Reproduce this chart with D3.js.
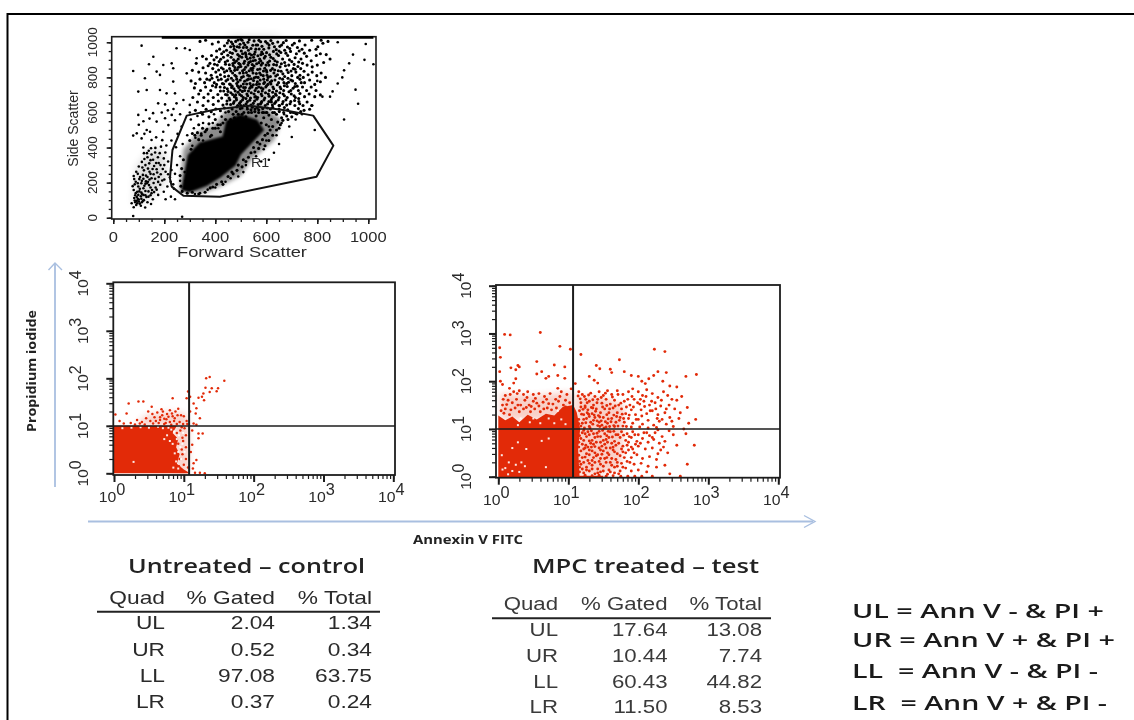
<!DOCTYPE html>
<html><head><meta charset="utf-8">
<script src="https://cdn.jsdelivr.net/npm/d3@7"></script>
<style>html,body{margin:0;padding:0;background:#fff}svg{display:block;filter:blur(.55px)}text{white-space:pre}</style>
</head><body><svg id="c" width="1134" height="720"></svg>
<script>
// ---------- DATA ----------
const scatterTicks=[0,200,400,600,800,1000];
const logMajor=[1,10,100,1000,10000];
const logLabels=["0","1","2","3","4"];
const quadHeader=["Quad","% Gated","% Total"];
const quadNames=["UL","UR","LL","LR"];
const untreatedGated=["2.04","0.52","97.08","0.37"];
const untreatedTotal=["1.34","0.34","63.75","0.24"];
const treatedGated=["17.64","10.44","60.43","11.50"];
const treatedTotal=["13.08","7.74","44.82","8.53"];
const legendLines=["UL = Ann V - & PI +","UR = Ann V + & PI +","LL  = Ann V - & PI -","LR  = Ann V + & PI -"];
const legendWidths=[252,263,246,255];
// gate R1 (forward, side scatter)
const gateR1=[[288,582],[405,618],[536,639],[667,614],[784,582],[863,411],[797,234],[418,120],[275,125],[229,177],[222,224],[232,386]];
// density regions of the main population (forward, side)
const coreA=[[270,160],[295,355],[340,425],[431,460],[445,550],[497,585],[562,555],[588,500],[536,420],[497,360],[477,300],[418,233],[366,186],[300,150]];
const haloA=[[260,150],[275,390],[335,490],[400,530],[450,630],[580,640],[660,560],[630,440],[540,330],[500,240],[420,180],[340,135]];
const smudgeA=[[450,1020],[650,1020],[640,800],[620,640],[460,600],[480,800]];
const smudgeLow=[[80,70],[90,280],[150,400],[200,380],[210,220],[150,110]];
// sparse and medium-density events, forward vs side scatter
const lowerCloud=[[78,836],[111,981],[157,918],[140,875],[124,795],[196,871],[229,880],[235,852],[170,833],[183,814],[248,966],[281,966],[300,956],[327,909],[98,719],[131,728],[183,728],[209,709],[242,709],[288,823],[235,776],[203,646],[176,652],[128,614],[98,586],[248,652],[275,671],[300,643],[203,567],[170,548],[131,500],[92,481],[78,468],[144,490],[196,490],[150,443],[111,452],[216,528],[229,586],[118,400],[139,382],[165,398],[187,405],[204,372],[150,360],[122,335],[175,345],[198,338],[215,320],[141,310],[100,292],[160,295],[185,300],[120,270],[90,262],[142,262],[172,258],[205,262],[228,272],[80,238],[105,232],[128,240],[150,225],[178,232],[200,218],[222,230],[88,205],[112,210],[136,205],[158,198],[184,188],[212,178],[238,165],[76,180],[98,178],[122,182],[146,172],[170,160],[198,148],[226,120],[242,105],[80,158],[102,150],[126,152],[150,140],[176,130],[205,105],[86,128],[108,122],[130,118],[155,105],[84,98],[100,92],[116,96],[134,88],[72,82],[90,72],[108,68],[125,58],[148,78],[80,60],[96,108],[112,135],[92,118],[104,165],[118,222],[132,196],[138,150],[82,112],[98,130],[78,10],[270,5],[128,208],[142,218],[118,168],[158,248],[168,312],[194,278],[112,318],[134,345],[156,330],[182,368],[208,412],[228,440],[252,478],[268,520],[242,556],[262,590],[236,620],[214,612],[190,600],[156,596],[142,565],[118,550],[100,530],[122,478],[168,458],[192,442],[246,402],[262,350],[250,300],[242,250],[262,210],[280,260],[272,420],[290,470],[316,510],[304,560],[330,580],[352,540],[300,600],[322,456],[345,480],[368,505],[390,540],[412,510],[425,576],[380,462],[352,440],[310,410],[395,590],[440,600],[660,540],[690,520],[715,560],[740,590],[610,520],[640,470],[670,590],[650,420],[600,440],[630,370],[590,390],[560,350],[520,300],[580,320],[510,260],[490,235],[460,225],[440,205],[400,172],[370,160],[340,140],[320,135],[610,330],[700,460],[720,590],[790,500],[905,560],[950,730],[960,650],[990,990],[985,900],[1020,875],[940,930],[925,880],[880,1000],[905,840],[898,800],[880,765],[860,720],[850,690],[820,690],[800,780],[780,640]];
const upperCloud=[[340,1005],[362,1012],[388,990],[412,1002],[436,980],[452,1010],[468,990],[480,1005],[494,972],[505,1012],[516,985],[528,1000],[540,965],[552,1008],[566,985],[578,1003],[590,960],[604,995],[618,1010],[632,975],[645,1002],[660,985],[678,1010],[692,965],[710,995],[730,1008],[752,985],[778,1012],[802,975],[822,995],[842,1005],[815,1012],[795,960],[770,955],[740,960],[722,970],[702,985],[672,955],[650,950],[628,948],[610,968],[586,935],[572,962],[556,945],[542,928],[530,955],[518,940],[502,950],[488,930],[474,960],[458,942],[444,955],[425,935],[405,950],[385,925],[365,905],[350,920],[395,900],[415,890],[432,915],[448,895],[462,915],[476,885],[490,905],[504,915],[512,880],[526,905],[538,890],[550,915],[562,878],[574,905],[592,910],[606,885],[618,915],[634,895],[648,925],[664,905],[684,925],[700,890],[718,935],[736,905],[758,920],[776,895],[796,925],[812,935],[835,930],[850,905],[825,885],[800,870],[780,860],[760,870],[742,880],[724,862],[706,850],[688,870],[672,885],[654,860],[640,870],[624,850],[610,870],[594,852],[580,870],[566,845],[552,865],[540,850],[528,870],[514,845],[500,862],[486,845],[470,868],[456,850],[440,875],[424,855],[408,870],[390,850],[372,866],[352,855],[325,880],[310,840],[335,830],[362,825],[384,812],[402,830],[420,815],[436,830],[452,808],[468,825],[482,805],[496,825],[510,805],[522,828],[534,808],[548,825],[560,802],[574,825],[588,810],[602,830],[616,805],[630,825],[644,815],[658,835],[672,805],[686,828],[700,810],[716,830],[732,812],[748,835],[764,815],[780,830],[798,810],[815,825],[832,800],[812,775],[790,760],[770,785],[750,770],[732,790],[714,765],[696,785],[680,765],[664,790],[648,770],[634,785],[618,762],[604,785],[590,765],[576,785],[562,760],[550,782],[536,765],[524,785],[510,762],[498,785],[484,765],[470,782],[456,762],[442,780],[428,765],[412,785],[396,770],[378,785],[358,770],[340,790],[322,765],[305,780],[318,740],[342,725],[362,745],[382,725],[402,745],[420,722],[436,742],[450,720],[464,742],[478,722],[492,742],[506,720],[518,742],[530,722],[544,745],[556,725],[570,745],[584,722],[598,745],[612,725],[626,745],[640,722],[654,745],[668,725],[682,748],[696,725],[712,748],[726,725],[742,745],[758,725],[776,745],[795,725],[812,700],[790,690],[768,705],[750,690],[732,708],[714,685],[698,705],[682,685],[666,705],[650,685],[636,705],[622,682],[608,705],[594,682],[580,705],[566,685],[552,705],[538,682],[524,705],[510,685],[496,702],[482,682],[468,702],[454,682],[440,702],[425,682],[410,702],[392,685],[372,705],[355,685],[335,705],[312,685],[330,660],[352,640],[372,665],[392,645],[412,665],[430,642],[446,665],[460,645],[474,662],[488,640],[500,662],[512,640],[526,662],[540,642],[554,665],[568,645],[582,662],[596,640],[610,662],[624,642],[638,662],[652,640],[666,662],[680,642],[696,662],[712,640],[728,662],[744,640],[760,660],[778,640],[770,618],[748,612],[726,622],[706,600],[684,615],[668,600],[650,620],[632,600],[616,620],[602,600],[586,622],[570,600],[556,620],[542,600],[526,620],[512,600],[498,622],[482,605],[466,620],[452,605],[436,625],[420,610],[402,620],[384,604],[364,618],[344,600],[322,612],[500,1018],[520,930],[548,895],[472,900],[560,985],[582,945],[596,920],[510,970],[534,935],[460,975],[486,975],[578,895],[600,840],[545,840],[492,880],[476,840],[510,825],[530,790],[568,800],[590,790],[500,750],[484,790],[466,750],[540,750],[580,740],[606,760],[628,690],[558,690],[520,680],[480,700],[500,640],[540,615],[580,655],[620,660],[650,640],[560,580],[600,600],[640,590],[680,580],[620,560],[660,570],[700,575],[580,540],[625,520],[520,575],[470,590],[440,560],[400,560],[350,590],[375,575],[335,530],[360,490],[385,470],[420,490],[400,510],[375,535],[310,480],[300,440],[335,445],[325,380],[310,350],[300,300],[300,250],[285,210],[390,175],[430,190],[465,260],[490,300],[510,330],[540,370],[575,420],[595,470],[615,500],[600,530],[650,510],[590,570],[470,500],[420,530],[460,560]];
const upperExtra=[[447,996],[463,1002],[473,977],[489,1013],[497,989],[511,996],[523,971],[533,1015],[547,983],[559,961],[571,1011],[583,977],[597,1004],[611,985],[625,994],[639,958],[653,977],[667,998],[683,973],[417,961],[433,946],[449,926],[467,937],[481,952],[495,921],[507,935],[521,918],[537,910],[553,932],[567,923],[579,930],[601,941],[613,929],[627,908],[641,934],[657,942],[677,938],[695,948],[713,912],[729,950],[749,938],[405,915],[421,903],[439,888],[455,872],[469,879],[483,893],[497,874],[515,892],[531,884],[545,873],[557,898],[571,884],[585,881],[599,870],[613,893],[629,873],[643,888],[659,878],[675,866],[691,900],[709,874],[727,888],[379,880],[397,875],[413,842],[431,848],[445,838],[461,836],[477,856],[491,858],[507,838],[519,858],[533,838],[547,852],[561,822],[575,848],[589,836],[603,812],[617,840],[633,842],[647,838],[665,820],[681,842],[697,836],[713,846],[735,850],[367,790],[387,795],[407,802],[423,790],[437,805],[449,788],[463,795],[477,812],[489,775],[503,800],[515,778],[527,812],[541,792],[553,798],[565,775],[579,815],[593,772],[607,800],[621,780],[637,808],[653,795],[669,770],[685,795],[703,780],[723,800],[745,800],[389,752],[405,760],[419,745],[433,762],[447,735],[459,760],[473,735],[487,752],[497,728],[511,742],[523,762],[535,738],[549,758],[561,738],[573,762],[587,735],[601,752],[615,772],[629,735],[643,758],[657,735],[671,752],[687,772],[705,738],[721,750],[737,770],[433,722],[447,700],[461,712],[475,690],[489,715],[503,695],[515,725],[527,695],[541,712],[555,688],[569,718],[583,695],[597,712],[611,692],[625,715],[639,698],[653,712],[671,695],[689,718],[709,695],[727,680],[445,648],[457,672],[471,652],[483,672],[495,652],[507,672],[521,650],[535,670],[549,652],[563,675],[577,648],[591,672],[605,648],[619,672],[633,652],[647,672],[663,650],[677,672],[693,650],[711,668],[731,650],[625,630],[605,625],[585,600],[565,628],[545,630],[525,632],[505,625],[485,632],[651,605],[671,628],[695,600],[715,595],[735,605],[665,555],[685,560],[645,545],[625,600],[610,585],[590,600],[570,615],[555,605],[530,600],[505,590],[490,590],[475,570],[455,545],[430,540],[410,530],[390,510],[365,500],[350,510],[320,470],[330,485],[345,470],[305,390],[275,330],[268,280],[262,240],[265,180],[270,150],[290,140],[310,145],[335,135],[360,145],[380,170],[405,190],[425,205],[450,235],[470,250],[485,270],[505,290],[520,320],[530,345],[555,375],[570,395],[595,410],[610,440],[625,470],[640,500],[655,530],[605,480],[585,445],[565,430],[550,400]];
const lowerExtra=[[86,88],[94,82],[104,80],[112,88],[92,96],[100,104],[110,108],[120,100],[88,140],[94,148],[110,144],[118,130],[126,128],[138,120],[146,128],[160,146],[166,172],[152,158],[140,186],[126,194],[110,196],[96,196],[84,190],[102,220],[116,244],[134,232],[146,250],[164,222],[176,204],[192,212],[186,248],[170,276],[154,278],[136,280],[114,286],[126,300],[146,328],[164,372],[178,312],[96,250],[82,220],[132,368],[148,396],[120,368],[200,300],[215,248],[225,205],[235,190]];
// top edge pile-up is drawn as a line between these forward scatter bounds
const pileUp=[[190,1028],[1020,1028]];
// untreated Annexin/PI events as decades (log10 annexin, log10 PI)
const coreB=[[0,0],[0,1],[.9,1],[.84,.85],[.92,.72],[.89,.55],[.94,.4],[.9,.2],[1.0,.08],[1.09,0]];
const haloB=[[.3,1],[.45,1.22],[.8,1.3],[1.02,1.26],[1.08,1],[1.08,0],[.9,0],[.85,1]];
const untreatedEvents=[[1.37,2.03],[1.32,2],[1.58,1.95],[1.49,1.79],[1.47,1.73],[1.4,1.79],[1.31,1.8],[1.37,1.71],[1.28,1.68],[1.26,1.61],[1.21,1.59],[1.29,1.54],[1.09,1.61],[1.14,1.47],[1.06,1.72],[1.18,1.37],[1.17,1.26],[1.23,1.16],[1.14,1.05],[1.18,1.02],[.21,1.47],[.35,1.51],[.42,1.51],[.18,1.26],[.02,1.24],[.54,1.4],[.49,1.3],[.84,1.58],[1.04,1.58],[.55,1.25],[.58,1.18],[.52,1.1],[.46,1.16],[.4,1.08],[.33,1.12],[.3,1.03],[.24,1.06],[.14,1.05],[.08,1.1],[.62,1.28],[.66,1.18],[.7,1.3],[.72,1.15],[.76,1.25],[.8,1.33],[.84,1.2],[.88,1.3],[.92,1.36],[.96,1.22],[.74,1.06],[.64,1.06],[.8,1.08],[.86,1.1],[.94,1.08],[.68,1.35],[.6,1.1],[1.0,1.2],[1.04,1.1],[1.09,1.3],[.9,1.04],[1.21,.84],[1.27,.84],[1.21,.74],[1.18,.28],[1.14,.21],[1.23,.01],[1.12,.9],[1.12,.6],[1.1,.45],[1.13,.1],[.95,.9],[.98,.75],[.92,.62],[.97,.5],[.94,.3],[1,.18],[.99,.68],[.9,.85],[.93,.15],[.98,.4],[1.03,.3],[1.03,.8],[1.03,.55],[1.06,.12],[1.16,.01],[1.3,.0],[.69,1.22],[.75,1.14],[.83,1.26],[.87,1.16],[.91,1.22],[.78,1.19],[.66,1.12],[.56,1.05],[.44,1.03],[.37,1.05],[.72,1.04],[.82,1.02],[.99,1.04],[1.01,.95],[.97,.97],[1.05,1.04]];
const untreatedGaps=[[.28,.24],[.76,.8],[.72,.72],[.8,.68],[.86,.88],[.9,.72],[.92,.45],[.89,.25],[.95,.55],[.93,.8],[.5,.96],[.25,.96],[.12,.95],[.7,.95],[.92,.1],[.84,.62],[.87,.42],[.82,.92],[.78,.96],[.96,.3],[.98,.62],[.99,.85],[1.01,.45],[.85,.12],[.63,.98],[.38,.97]];
// treated Annexin/PI events as decades
const coreC=[[0,0],[0,1.28],[.1,1.18],[.2,1.26],[.3,1.14],[.42,1.3],[.55,1.2],[.68,1.32],[.8,1.28],[.92,1.46],[1.07,1.5],[1.12,1.35],[1.17,1.0],[1.14,.6],[1.16,.02],[1.5,.02],[1.5,-.02],[0,-.02]];
const haloC1=[[.03,1.2],[.03,1.75],[.5,1.7],[1.07,1.78],[1.07,1.2]];
const haloC2=[[1.12,.02],[1.12,1.7],[1.5,1.66],[1.8,1.5],[1.75,.2],[1.5,.08]];
const treatedEvents=[[.6,3.02],[.09,2.98],[.17,2.97],[.88,2.73],[.55,2.41],[.8,2.34],[1.03,2.67],[.28,2.33],[.02,2.7],[.03,2.5],[.18,2.28],[.25,2.24],[.3,2.3],[.55,2.15],[.62,2.2],[.68,2.06],[.72,2.1],[.85,2.12],[.95,2.3],[.95,2.06],[.25,2.05],[.22,1.96],[.02,2.2],[.03,2.0],[.06,1.93],[.85,1.85],[1.1,1.95],[.16,1.85],[.22,1.78],[.3,1.8],[.36,1.72],[.42,1.78],[.5,1.72],[.58,1.74],[.66,1.68],[.74,1.74],[.82,1.62],[.9,1.78],[.98,1.72],[1.04,1.84],[.1,1.7],[.14,1.6],[.2,1.55],[.26,1.62],[.32,1.5],[.38,1.6],[.44,1.5],[.5,1.58],[.58,1.48],[.64,1.56],[.7,1.44],[.78,1.52],[.86,1.58],[.96,1.6],[1.02,1.55],[.06,1.5],[.1,1.42],[.18,1.4],[.24,1.44],[.3,1.36],[.36,1.42],[.46,1.36],[.52,1.42],[.6,1.36],[.76,1.4],[.16,1.3],
[1.18,2.56],[1.4,2.33],[1.45,2.26],[1.3,2.1],[1.37,2.02],[1.42,1.96],[1.6,2.25],[1.62,2.18],[1.73,2.45],[1.8,2.2],[1.9,2.12],[2.0,2.1],[2.05,2.0],[2.1,1.95],[2.15,2.05],[2.22,2.12],[2.28,2.2],[2.38,2.62],[2.23,2.67],[2.4,2.18],[2.35,2.0],[2.45,1.9],[2.55,1.88],[2.68,2.1],[2.83,2.14],[2.62,1.68],[2.55,1.6],[2.7,1.45],[2.82,1.2],[2.72,1.12],[2.65,1.0],
[1.15,1.78],[1.2,1.72],[1.25,1.62],[1.32,1.75],[1.38,1.68],[1.44,1.78],[1.5,1.7],[1.56,1.8],[1.62,1.72],[1.7,1.8],[1.78,1.72],[1.86,1.78],[1.92,1.84],[2,1.78],[2.06,1.7],[2.12,1.82],[2.2,1.74],[2.28,1.66],[2.36,1.78],[2.42,1.7],[2.48,1.62],[1.18,1.55],[1.24,1.48],[1.3,1.58],[1.36,1.5],[1.42,1.62],[1.48,1.54],[1.54,1.62],[1.6,1.52],[1.66,1.6],[1.72,1.5],[1.8,1.58],[1.88,1.5],[1.94,1.62],[2.02,1.52],[2.08,1.58],[2.16,1.5],[2.24,1.55],[2.32,1.48],[2.4,1.42],[1.16,1.38],[1.22,1.3],[1.28,1.4],[1.34,1.32],[1.4,1.42],[1.46,1.34],[1.52,1.42],[1.58,1.34],[1.64,1.44],[1.7,1.34],[1.76,1.42],[1.82,1.32],[1.9,1.4],[1.96,1.3],[2.04,1.4],[2.12,1.32],[2.2,1.38],[2.28,1.3],[2.38,1.34],[2.45,1.24],[1.15,1.2],[1.2,1.12],[1.26,1.22],[1.32,1.14],[1.38,1.24],[1.44,1.14],[1.5,1.24],[1.56,1.12],[1.62,1.22],[1.68,1.14],[1.74,1.24],[1.8,1.14],[1.86,1.22],[1.92,1.12],[2,1.2],[2.06,1.1],[2.14,1.18],[2.22,1.08],[2.3,1.16],[2.4,1.1],[2.5,1.05],[1.18,1.06],[1.3,1.05],[1.42,1.07],[1.54,1.04],[1.66,1.05],[1.78,1.06],[1.9,1.04],[2.02,1.04],[2.14,1.02],[2.26,1.03],[1.24,1.45],[1.3,1.26],[1.36,1.18],[1.48,1.08],[1.27,1.34],[1.22,1.2],[1.18,1.46],[1.35,1.44],[1.45,1.25],[1.55,1.3],
[1.2,.92],[1.28,.94],[1.36,.9],[1.44,.95],[1.52,.9],[1.6,.94],[1.68,.88],[1.76,.94],[1.84,.9],[1.92,.94],[2,.88],[2.08,.92],[2.16,.86],[2.24,.92],[2.34,.84],[2.5,.88],[1.18,.8],[1.26,.84],[1.34,.76],[1.42,.84],[1.5,.76],[1.58,.82],[1.66,.74],[1.74,.82],[1.82,.76],[1.9,.82],[1.98,.74],[2.06,.8],[2.14,.72],[2.22,.78],[2.3,.7],[2.38,.74],[2.55,.66],[1.2,.68],[1.28,.62],[1.36,.68],[1.44,.6],[1.52,.68],[1.6,.6],[1.68,.66],[1.76,.58],[1.84,.66],[1.92,.58],[2,.64],[2.1,.58],[2.2,.6],[2.32,.56],[2.42,.5],[1.18,.54],[1.26,.48],[1.34,.54],[1.42,.46],[1.5,.54],[1.58,.46],[1.66,.52],[1.74,.44],[1.82,.5],[1.9,.4],[1.98,.46],[2.06,.38],[2.16,.42],[2.26,.36],[1.2,.4],[1.28,.34],[1.36,.4],[1.44,.32],[1.52,.38],[1.6,.3],[1.68,.36],[1.76,.28],[1.84,.32],[1.94,.26],[2.04,.28],[2.14,.22],[2.26,.2],[2.38,.24],[2.7,.26],[1.18,.26],[1.26,.2],[1.34,.24],[1.42,.16],[1.5,.22],[1.58,.14],[1.66,.2],[1.74,.12],[1.82,.18],[1.9,.12],[2,.14],[2.12,.1],[1.22,.08],[1.3,.12],[1.38,.06],[1.46,.1],[1.56,.05],[1.66,.08],[1.2,.16],[1.24,.6],[1.3,.75],[1.4,.72],[1.46,.38],[1.56,.72],[2.8,.66],[2.68,.9],[2.28,.48],[2.45,.06],[2.6,.01],[2.2,.01],[2.05,.01],[1.95,.01],[1.85,.01],[1.75,.01]];
const treatedExtra=[[.07,1.62],[.17,1.72],[.27,1.74],[.41,1.66],[.53,1.64],[.69,1.62],[.88,1.68],[.93,1.5],[1.01,1.42],[.72,1.53],[.55,1.54],[.4,1.45],[.12,1.51],[.04,1.38],[.83,1.44],[.65,1.42],[.47,1.47],[.28,1.5],[.08,1.33],[.96,1.46],[1.14,1.69],[1.17,1.63],[1.21,1.41],[1.23,1.68],[1.27,1.55],[1.29,1.71],[1.33,1.45],[1.35,1.61],[1.39,1.37],[1.41,1.55],[1.43,1.28],[1.47,1.66],[1.49,1.46],[1.53,1.75],[1.55,1.49],[1.57,1.21],[1.59,1.42],[1.63,1.67],[1.65,1.29],[1.67,1.48],[1.71,1.72],[1.73,1.18],[1.75,1.54],[1.77,1.31],[1.83,1.46],[1.85,1.62],[1.87,1.29],[1.91,1.68],[1.93,1.46],[1.97,1.2],[1.99,1.55],[2.03,1.62],[2.05,1.27],[2.09,1.47],[2.11,1.68],[2.17,1.38],[2.19,1.58],[2.25,1.42],[2.27,1.22],[2.33,1.6],[1.15,1.11],[1.19,1.31],[1.23,1.02],[1.25,1.13],[1.29,1.31],[1.31,1.02],[1.35,1.1],[1.37,1.29],[1.41,1.17],[1.45,1.05],[1.47,1.17],[1.51,1.02],[1.53,1.15],[1.59,1.05],[1.61,1.15],[1.65,1.07],[1.69,1.26],[1.71,1.06],[1.79,1.22],[1.83,1.05],[1.14,.96],[1.22,.97],[1.16,.86],[1.24,.9],[1.3,.88],[1.33,.96],[1.38,.82],[1.41,.91],[1.46,.84],[1.49,.97],[1.55,.86],[1.57,.95],[1.63,.83],[1.65,.95],[1.71,.88],[1.79,.87],[1.87,.84],[1.95,.88],[1.15,.72],[1.22,.76],[1.25,.66],[1.32,.7],[1.38,.63],[1.46,.72],[1.48,.64],[1.54,.78],[1.62,.7],[1.64,.62],[1.72,.7],[1.78,.64],[1.86,.72],[1.96,.68],[2.03,.7],[1.15,.62],[1.22,.58],[1.3,.56],[1.33,.62],[1.38,.5],[1.46,.56],[1.54,.6],[1.56,.5],[1.64,.56],[1.7,.48],[1.78,.52],[1.86,.56],[1.94,.5],[1.15,.45],[1.24,.41],[1.3,.46],[1.34,.34],[1.4,.44],[1.48,.47],[1.55,.4],[1.62,.38],[1.7,.3],[1.8,.4],[1.88,.3],[1.16,.32],[1.22,.3],[1.3,.28],[1.38,.3],[1.46,.26],[1.54,.3],[1.62,.24],[1.7,.22],[1.78,.2],[1.16,.1],[1.26,.14],[1.34,.16],[1.42,.08],[1.5,.12],[1.6,.1],[1.72,.06],[1.16,.2],[1.24,.03],[1.34,.02],[1.44,.03],[1.54,.01],[1.64,.02],[1.9,.62],[2.12,.92],[2.2,.82],[2.28,.98],[2.44,.96],[2.36,.62],[2.6,1.34],[2.52,1.42],[2.58,1.22],[2.48,1.16],[2.34,1.2],[2.44,1.5]];
const treatedGaps=[[.28,.72],[.2,.6],[.4,.58],[.72,.8],[.62,.75],[.25,.25],[.15,.3],[.33,.3],[.1,.18],[.2,.12],[.3,.1],[.14,.05],[.38,.22],[.68,.2],[.05,.45],[.8,1.12],[.45,1.14],[.32,1.22],[.28,1.08],[.9,1.2],[.96,1.1],[.72,1.22],[.6,1.12],[.5,1.22],[.85,1.38],[.06,.15]];

// ---------- LAYOUT ----------
const svg=d3.select("#c");
const ink="#1c1c1c";
const red="#e22a08";
const blue="#a9bfe0";
function label(x,y,str,o={}){
  const t=svg.append("text").text(str)
    .attr("transform",`translate(${x},${y})${o.rot?` rotate(${o.rot})`:""} scale(${o.sx||1},1)`)
    .attr("font-family",o.family||"'Liberation Sans',Arial,sans-serif")
    .attr("font-size",o.size||14).attr("font-weight",o.weight||400)
    .attr("fill",o.fill||"#2a2a2a").attr("text-anchor",o.anchor||"start");
  if(o.len) t.attr("textLength",o.len).attr("lengthAdjust","spacingAndGlyphs");
  return t;
}
// outer border: left and top only, the top runs off the right edge
svg.append("path").attr("d",d3.line()([[7.5,720],[7.5,14],[1134,14]])).attr("fill","none").attr("stroke","#000").attr("stroke-width",2);

// ---------- Side vs forward scatter ----------
const xA=d3.scaleLinear().domain([0,1000]).range([113.3,368.3]);
const yA=d3.scaleLinear().domain([0,1000]).range([217.7,42.3]);
const frameA={x0:111.7,x1:376,y0:36.7,y1:219};
const lineA=d3.line().x(d=>xA(d[0])).y(d=>yA(d[1]));
const gA=svg.append("g");
gA.append("path").attr("d",lineA(smudgeA)+"Z").attr("fill","#000").attr("opacity",.22).style("filter","blur(6px)");
gA.append("path").attr("d",lineA(smudgeLow)+"Z").attr("fill","#000").attr("opacity",.14).style("filter","blur(4px)");
gA.append("path").attr("d",lineA(haloA)+"Z").attr("fill","#000").attr("opacity",.45).style("filter","blur(2px)");
gA.append("path").attr("d",lineA(coreA)+"Z").attr("fill","#000").attr("stroke","#000").attr("stroke-width",1.5).style("filter","blur(.8px)");
gA.selectAll("circle.l").data(lowerCloud.concat(lowerExtra)).join("circle").attr("cx",d=>xA(d[0])).attr("cy",d=>yA(d[1])).attr("r",1.3).attr("fill","#000");
gA.selectAll("circle.u").data(upperCloud.concat(upperExtra)).join("circle").attr("cx",d=>xA(d[0])).attr("cy",d=>yA(d[1])).attr("r",1.55).attr("fill","#000");
gA.append("path").attr("d",lineA(gateR1)+"Z").attr("fill","none").attr("stroke","#111").attr("stroke-width",2).attr("stroke-linejoin","round");
gA.append("rect").attr("x",frameA.x0).attr("y",frameA.y0).attr("width",frameA.x1-frameA.x0).attr("height",frameA.y1-frameA.y0).attr("fill","none").attr("stroke",ink).attr("stroke-width",1.6);
gA.append("path").attr("d",lineA(pileUp)).attr("stroke","#000").attr("stroke-width",2.6).attr("fill","none");
function linearTicks(axis,scale,place,step){
  const vals=d3.range(0,1001,step);
  const g=svg.append("g").attr("transform",place).call(axis(scale).tickValues(vals).tickSize(3).tickFormat(""));
  g.select(".domain").remove();
  g.selectAll("line").attr("stroke",ink).attr("stroke-width",1.3);
  const m=svg.append("g").attr("transform",place).call(axis(scale).tickValues(scatterTicks).tickSize(5).tickFormat(""));
  m.select(".domain").remove();
  m.selectAll("line").attr("stroke",ink).attr("stroke-width",1.6);
}
linearTicks(d3.axisBottom,xA,`translate(0,${frameA.y1})`,50);
linearTicks(d3.axisLeft,yA,`translate(${frameA.x0},0)`,50);
scatterTicks.forEach(v=>{
  label(xA(v),242,String(v),{size:14,sx:1.18,anchor:"middle"});
  label(96.5,yA(v),String(v),{size:13.5,rot:-90,anchor:"middle"});
});
label(242,256.5,"Forward Scatter",{size:14.5,sx:1.26,anchor:"middle"});
label(78,128.5,"Side Scatter",{size:14,rot:-90,anchor:"middle"});
label(251,167,"R1",{size:13,sx:1.1});

// ---------- Annexin/PI panels ----------
const minor=[];logMajor.slice(0,4).forEach(b=>d3.range(1,10).forEach(k=>minor.push(b*k)));minor.push(10000);
function logPanel(f){
  const x=d3.scaleLog().domain([1,10000]).range([f.tx0,f.tx1]);
  const y=d3.scaleLog().domain([1,10000]).range([f.ty0,f.ty1]);
  const px=d=>x(Math.pow(10,d[0])), py=d=>y(Math.pow(10,d[1]));
  const g=svg.append("g");
  const ln=d3.line().x(px).y(d=>Math.min(f.y1,py(d)));
  f.halos.forEach(h=>g.append("path").attr("d",ln(h)+"Z").attr("fill",red).attr("opacity",f.haloOpacity).style("filter","blur(3px)"));
  g.append("path").attr("d",ln(f.core)+"Z").attr("fill",red);
  g.selectAll("circle.e").data(f.events).join("circle").attr("cx",px).attr("cy",py).attr("r",f.r).attr("fill",red);
  g.selectAll("rect.g").data(f.gaps).join("rect").attr("x",d=>px(d)-1).attr("y",d=>py(d)-1).attr("width",2).attr("height",2).attr("fill","#fff").attr("opacity",.9);
  g.append("rect").attr("x",f.x0).attr("y",f.y0).attr("width",f.x1-f.x0).attr("height",f.y1-f.y0).attr("fill","none").attr("stroke",ink).attr("stroke-width",1.8);
  g.append("line").attr("x1",x(f.qx)).attr("x2",x(f.qx)).attr("y1",f.y0).attr("y2",f.y1).attr("stroke",ink).attr("stroke-width",2);
  g.append("line").attr("x1",f.x0).attr("x2",f.x1).attr("y1",y(f.qy)).attr("y2",y(f.qy)).attr("stroke",ink).attr("stroke-width",1.6);
  [[d3.axisBottom,x,`translate(0,${f.y1})`],[d3.axisLeft,y,`translate(${f.x0},0)`]].forEach(([ax,s,tr])=>{
    const a=svg.append("g").attr("transform",tr).call(ax(s).tickValues(minor).tickSize(4).tickFormat(""));
    a.select(".domain").remove();a.selectAll("line").attr("stroke",ink).attr("stroke-width",1.2);
    const b=svg.append("g").attr("transform",tr).call(ax(s).tickValues(logMajor).tickSize(7).tickFormat(""));
    b.select(".domain").remove();b.selectAll("line").attr("stroke",ink).attr("stroke-width",2);
  });
  logMajor.forEach((v,i)=>{
    const t=label(x(v)-2,f.y1+27,"10",{size:15.5,sx:1.02,anchor:"middle"});
    t.append("tspan").attr("dy",-7).attr("font-size",16).text(logLabels[i]);
    const u=label(f.x0-25,y(v),"10",{size:15.5,rot:-90,anchor:"middle"});
    u.append("tspan").attr("dy",-7).attr("font-size",16).text(logLabels[i]);
  });
}
logPanel({tx0:114,tx1:393.3,ty0:473.3,ty1:283.3,x0:113.3,x1:395,y0:282.3,y1:475,qx:11.9,qy:9.9,core:coreB,halos:[haloB],haloOpacity:.2,r:1.25,events:untreatedEvents,gaps:untreatedGaps});
logPanel({tx0:498.3,tx1:778.3,ty0:476.7,ty1:285.7,x0:496,x1:780,y0:285,y1:477.7,qx:11.7,qy:10,core:coreC,halos:[haloC1,haloC2],haloOpacity:.22,r:1.45,events:treatedEvents.concat(treatedExtra),gaps:treatedGaps});

// arrows
const arrows=svg.append("g").attr("fill","none").attr("stroke",blue).attr("stroke-width",1.8);
arrows.append("path").attr("d",d3.line()([[55,487],[55,264]]));
arrows.append("path").attr("d",d3.line()([[48.5,270],[55,263],[62,270]])).attr("stroke-width",1.4);
arrows.append("path").attr("d",d3.line()([[88,521.5],[813,521.5]]));
arrows.append("path").attr("d",d3.line()([[804,515.5],[815,521.5],[804,527.5]])).attr("stroke-width",1.4);
label(36,371,"Propidium iodide",{size:12.5,weight:700,rot:-90,anchor:"middle",fill:"#222",family:"'Open Sans',sans-serif",len:122});
label(413,544,"Annexin V FITC",{size:11.5,weight:700,fill:"#222",family:"'Open Sans',sans-serif",len:110});

// ---------- Tables ----------
function table(t){
  label(t.titleX,572.7,t.title,{size:20,weight:600,fill:"#222",family:"'Open Sans',sans-serif",len:t.titleLen});
  t.head.forEach((s,i)=>label(t.headX[i],t.headY,s,{size:17.5,sx:t.sx,anchor:"end",fill:t.fill}));
  svg.append("line").attr("x1",t.rule[0]).attr("x2",t.rule[1]).attr("y1",t.ruleY).attr("y2",t.ruleY).attr("stroke","#222").attr("stroke-width",2);
  quadNames.forEach((q,i)=>{
    label(t.headX[0],t.rows[i],q,{size:17.5,sx:t.sx,anchor:"end",fill:t.fill});
    label(t.headX[1],t.rows[i],t.gated[i],{size:17.5,sx:t.sx,anchor:"end",fill:t.fill});
    label(t.headX[2],t.rows[i],t.total[i],{size:17.5,sx:t.sx,anchor:"end",fill:t.fill});
  });
}
table({title:"Untreated – control",titleX:128,titleLen:237,head:quadHeader,headX:[165,275,372],headY:604.3,rule:[97,380],ruleY:611.7,rows:[629,655.7,682.3,708.3],gated:untreatedGated,total:untreatedTotal,sx:1.3,fill:"#2a2a2a"});
table({title:"MPC treated – test",titleX:532,titleLen:227,head:quadHeader,headX:[558,667.5,762],headY:610,rule:[492,771],ruleY:618.3,rows:[635.7,661.7,687.7,713.3],gated:treatedGated,total:treatedTotal,sx:1.27,fill:"#3a3a3a"});
const legendY=[617.7,647.3,677.7,709.5];
legendLines.forEach((s,i)=>label(852,legendY[i],s,{size:20.5,weight:600,fill:"#1a1a1a",family:"'Open Sans',sans-serif",len:legendWidths[i]}));
</script></body></html>
